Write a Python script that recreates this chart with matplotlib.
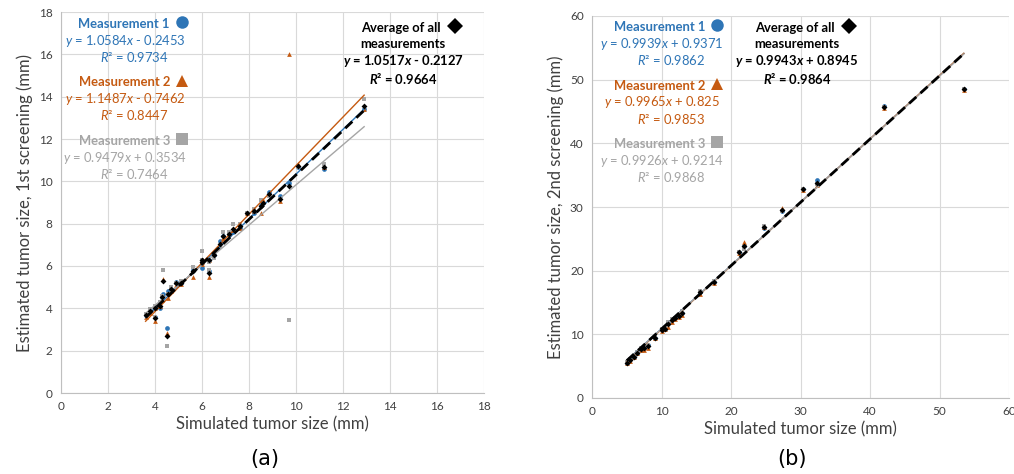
import matplotlib.pyplot as plt
import numpy as np

plt.rcParams['font.family'] = ['Lato', 'DejaVu Sans']
plt.rcParams['mathtext.fontset'] = 'custom'
plt.rcParams['mathtext.rm'] = 'Lato'
plt.rcParams['mathtext.it'] = 'Lato:italic'
plt.rcParams['mathtext.bf'] = 'Lato:bold'
plt.rcParams['mathtext.bfit'] = 'Lato:bold:italic'

BLUE = '#2E75B6'
ORANGE = '#C55A11'
GRAY = '#A5A5A5'
GRID = '#D9D9D9'

# first screening: simulated size and the three measurements
sim1 = [3.6, 3.8, 4.0, 4.0, 4.2, 4.3, 4.35, 4.5, 4.55, 4.7, 4.9, 5.1, 5.6, 6.0,
        6.0, 6.3, 6.3, 6.5, 6.75, 6.9, 7.15, 7.3, 7.6, 7.9, 8.2, 8.5, 8.6, 8.85,
        9.3, 9.7, 10.1, 11.2, 12.9]
m1_1 = [3.7, 3.9, 3.6, 4.0, 4.0, 4.55, 4.7, 3.05, 4.8, 4.9, 5.25, 5.2, 5.8, 5.9,
        6.2, 5.75, 6.3, 6.5, 7.2, 7.4, 7.5, 7.6, 7.8, 8.5, 8.5, 8.9, 9.0, 9.5,
        9.3, 9.9, 10.7, 10.6, 13.4]
m2_1 = [3.6, 3.8, 3.4, 4.0, 4.1, 4.4, 5.4, 2.85, 4.5, 4.8, 5.1, 5.15, 5.5, 6.2,
        6.1, 5.5, 6.3, 6.6, 7.0, 7.3, 7.5, 7.7, 7.8, 8.5, 8.6, 8.5, 9.1, 9.4,
        9.05, 16.0, 10.8, 10.7, 13.4]
m3_1 = [3.75, 3.95, 3.6, 4.1, 4.3, 4.6, 5.8, 2.2, 4.7, 5.0, 5.2, 5.3, 5.95, 6.7,
        6.3, 5.8, 6.2, 6.4, 6.9, 7.6, 7.6, 8.0, 8.0, 8.5, 8.7, 9.1, 8.9, 9.3,
        9.15, 3.45, 10.7, 10.8, 13.9]

# second screening
sim2 = [5.0, 5.5, 6.0, 6.5, 7.0, 7.5, 8.0, 9.0, 10.0, 10.5, 11.0, 11.5, 12.0,
        12.5, 13.0, 15.5, 17.5, 21.2, 21.9, 24.8, 27.3, 30.4, 32.4, 42.0, 53.5]
m1_2 = [5.5, 6.2, 6.5, 7.1, 7.6, 7.9, 8.3, 9.5, 10.7, 10.9, 11.8, 12.2, 12.6,
        12.9, 13.3, 16.6, 18.2, 23.0, 23.8, 26.7, 29.3, 32.8, 34.2, 45.8, 48.6]
m2_2 = [5.5, 5.8, 6.4, 7.0, 7.5, 7.6, 7.8, 9.4, 10.5, 10.8, 11.2, 12.0, 12.4,
        12.8, 13.0, 16.4, 18.0, 22.7, 24.5, 26.9, 29.8, 32.7, 33.4, 45.5, 48.4]
m3_2 = [5.6, 6.1, 6.6, 7.2, 7.8, 8.0, 8.4, 9.6, 10.8, 11.0, 12.0, 12.4, 12.5,
        13.0, 13.6, 16.8, 18.3, 23.0, 23.4, 27.0, 29.3, 32.8, 33.6, 45.7, 48.6]

# trendline coefficients (slope, intercept, R²)
fits1 = [(1.0584, -0.2453, 0.9734), (1.1487, -0.7462, 0.8447), (0.9479, 0.3534, 0.7464)]
avg_fit1 = (1.0517, -0.2127, 0.9664)
fits2 = [(0.9939, 0.9371, 0.9862), (0.9965, 0.825, 0.9853), (0.9926, 0.9214, 0.9868)]
avg_fit2 = (0.9943, 0.8945, 0.9864)

W, H = 1014, 474
fig = plt.figure(figsize=(W / 100, H / 100), dpi=100)
FS = 9.4


def px(x, y):
    return x / W, 1 - y / H


def eq_text(a, b):
    sign = '+' if b >= 0 else '-'
    return r'$\mathit{y}$' + f' = {a:g}' + r'$\mathit{x}$' + f' {sign} {abs(b):g}'


def eq_text_bold(a, b):
    sign = '+' if b >= 0 else '-'
    return r'$\mathbfit{y}$' + f' = {a:g}' + r'$\mathbfit{x}$' + f' {sign} {abs(b):g}'


def draw_panel(rect, sim, meas, fits, avg_fit, xmax, ymax, step, xlabel, ylabel):
    ax = fig.add_axes(rect)
    sim = np.array(sim)
    meas = [np.array(m) for m in meas]
    avg = np.mean(meas, axis=0)
    colors = [BLUE, ORANGE, GRAY]
    markers = ['o', '^', 's']
    xs = np.array([sim.min(), sim.max()])
    for m, c, mk in zip(meas, colors, markers):
        ax.plot(sim, m, mk, color=c, ms=3.4, mew=0, zorder=3)
    for (a, b, r2), c in zip(fits, colors):
        ax.plot(xs, a * xs + b, color=c, lw=1.0, zorder=4)
    ax.plot(sim, avg, 'D', color='black', ms=3.0, mew=0, zorder=5)
    a, b, r2 = avg_fit
    ax.plot(xs, a * xs + b, color='black', lw=2.0, dashes=(3.5, 2), zorder=6)

    ax.set_xlim(0, xmax)
    ax.set_ylim(0, ymax)
    ax.set_xticks(np.arange(0, xmax + 0.1, step[0]))
    ax.set_yticks(np.arange(0, ymax + 0.1, step[1]))
    ax.grid(True, color=GRID, lw=0.8)
    ax.set_axisbelow(True)
    for s in ['top', 'right']:
        ax.spines[s].set_visible(False)
    for s in ['left', 'bottom']:
        ax.spines[s].set_color('#BFBFBF')
        ax.spines[s].set_linewidth(0.8)
    ax.tick_params(length=0, labelsize=8.5, colors='#404040', pad=6)
    ax.set_xlabel(xlabel, fontsize=12, color='#404040', labelpad=3)
    ax.set_ylabel(ylabel, fontsize=12, color='#404040', labelpad=4)
    return ax


ax1 = draw_panel([61 / W, 1 - 393 / H, 423 / W, 381 / H], sim1, [m1_1, m2_1, m3_1],
                 fits1, avg_fit1, 18, 18, (2, 2),
                 'Simulated tumor size (mm)', 'Estimated tumor size, 1st screening (mm)')
ax2 = draw_panel([592 / W, 1 - 398 / H, 417 / W, 382 / H], sim2, [m1_2, m2_2, m3_2],
                 fits2, avg_fit2, 60, 60, (10, 10),
                 'Simulated tumor size (mm)', 'Estimated tumor size, 2nd screening (mm)')


def legend_block(x_title, x_eq, y0, fits, avg_fit, avg_x, avg_y):
    names = ['Measurement 1', 'Measurement 2', 'Measurement 3']
    colors = [BLUE, ORANGE, GRAY]
    markers = ['o', '^', 's']
    for i, ((a, b, r2), name, c, mk) in enumerate(zip(fits, names, colors, markers)):
        y = y0 + i * 58.5
        fig.text(*px(x_title, y), name, color=c, fontsize=FS, fontweight='bold',
                 ha='right', va='center')
        fig.lines.append(plt.Line2D([(x_title + 12) / W], [1 - (y - 2) / H], marker=mk,
                                    color=c, ms=9, mew=0, transform=fig.transFigure))
        fig.text(*px(x_eq, y + 17), eq_text(a, b), color=c, fontsize=FS,
                 ha='center', va='center')
        fig.text(*px(x_eq + 9, y + 33), r'$\mathit{R}$² = ' + f'{r2:g}', color=c,
                 fontsize=FS, ha='center', va='center')
    a, b, r2 = avg_fit
    fig.text(*px(avg_x - 2, avg_y), 'Average of all', fontsize=FS, fontweight='bold',
             ha='center', va='center')
    fig.lines.append(plt.Line2D([(avg_x + 52) / W], [1 - (avg_y - 2) / H], marker='D',
                                color='black', ms=8, mew=0, transform=fig.transFigure))
    fig.text(*px(avg_x, avg_y + 16), 'measurements', fontsize=FS, fontweight='bold',
             ha='center', va='center')
    fig.text(*px(avg_x, avg_y + 33), eq_text_bold(a, b), fontsize=FS, fontweight='bold',
             ha='center', va='center')
    fig.text(*px(avg_x, avg_y + 50), r'$\mathbfit{R}$² = ' + f'{r2:g}', fontsize=FS,
             fontweight='bold', ha='center', va='center')


legend_block(170, 125, 24, fits1, avg_fit1, 403, 28)
legend_block(705, 662, 27, fits2, avg_fit2, 797, 28)

fig.text(*px(265, 459), '(a)', fontsize=15, ha='center', va='center', family='DejaVu Sans')
fig.text(*px(792, 459), '(b)', fontsize=15, ha='center', va='center', family='DejaVu Sans')

fig.savefig('out.png', dpi=100)
